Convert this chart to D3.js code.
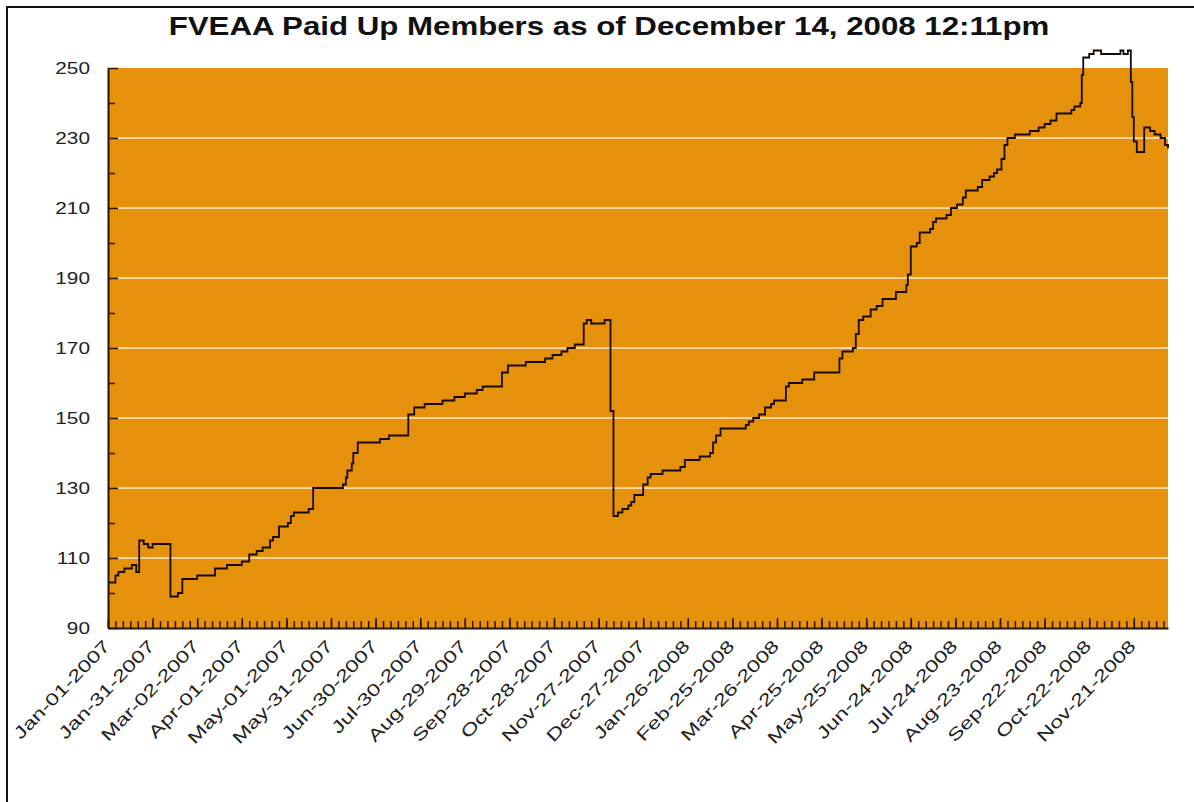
<!DOCTYPE html>
<html>
<head>
<meta charset="utf-8">
<script src="https://cdn.jsdelivr.net/npm/d3@7"></script>
<style>
  body { margin: 0; background: #fff; }
  svg { display: block; }
</style>
</head>
<body>
<div id="chart"></div>
<script>
// change dates of the member count (step series)
const dates = [
  "2007-01-01", "2007-01-06", "2007-01-08", "2007-01-12", "2007-01-17", "2007-01-20",
  "2007-01-22", "2007-01-25", "2007-01-28", "2007-01-31", "2007-02-12", "2007-02-17",
  "2007-02-20", "2007-03-02", "2007-03-14", "2007-03-22", "2007-04-01", "2007-04-06",
  "2007-04-11", "2007-04-15", "2007-04-20", "2007-04-22", "2007-04-26", "2007-05-02",
  "2007-05-04", "2007-05-06", "2007-05-16", "2007-05-19", "2007-06-08", "2007-06-10",
  "2007-06-11", "2007-06-14", "2007-06-15", "2007-06-18", "2007-07-03", "2007-07-09",
  "2007-07-22", "2007-07-26", "2007-08-02", "2007-08-14", "2007-08-22", "2007-08-29",
  "2007-09-06", "2007-09-10", "2007-09-23", "2007-09-27", "2007-10-09", "2007-10-22",
  "2007-10-27", "2007-11-02", "2007-11-06", "2007-11-11", "2007-11-17", "2007-11-19",
  "2007-11-22", "2007-12-01", "2007-12-05", "2007-12-07", "2007-12-10", "2007-12-13",
  "2007-12-17", "2007-12-19", "2007-12-21", "2007-12-27", "2007-12-30", "2008-01-01",
  "2008-01-09", "2008-01-21", "2008-01-24", "2008-02-03", "2008-02-10", "2008-02-12",
  "2008-02-14", "2008-02-17", "2008-03-05", "2008-03-07", "2008-03-10", "2008-03-14",
  "2008-03-18", "2008-03-22", "2008-03-24", "2008-04-01", "2008-04-03", "2008-04-12",
  "2008-04-20", "2008-05-07", "2008-05-09", "2008-05-16", "2008-05-18", "2008-05-20",
  "2008-05-23", "2008-05-28", "2008-06-01", "2008-06-05", "2008-06-14", "2008-06-21",
  "2008-06-22", "2008-06-24", "2008-06-28", "2008-06-30", "2008-07-07", "2008-07-09",
  "2008-07-11", "2008-07-18", "2008-07-21", "2008-07-25", "2008-07-29", "2008-07-31",
  "2008-08-08", "2008-08-11", "2008-08-16", "2008-08-19", "2008-08-21", "2008-08-24",
  "2008-08-26", "2008-08-28", "2008-09-02", "2008-09-12", "2008-09-18", "2008-09-22",
  "2008-09-26", "2008-09-30", "2008-10-10", "2008-10-12", "2008-10-16", "2008-10-17",
  "2008-10-18", "2008-10-22", "2008-10-25", "2008-10-30", "2008-11-12", "2008-11-14",
  "2008-11-17", "2008-11-19", "2008-11-20", "2008-11-21", "2008-11-23", "2008-11-28",
  "2008-12-02", "2008-12-05", "2008-12-09", "2008-12-12", "2008-12-14"
];

// paid up members from that date on
const members = [
  103, 105, 106, 107, 108, 106,
  115, 114, 113, 114, 99, 100,
  104, 105, 107, 108, 109, 111,
  112, 113, 115, 116, 119, 120,
  122, 123, 124, 130, 131, 133,
  135, 137, 140, 143, 144, 145,
  151, 153, 154, 155, 156, 157,
  158, 159, 163, 165, 166, 167,
  168, 169, 170, 171, 177, 178,
  177, 178, 152, 122, 123, 124,
  125, 126, 128, 131, 133, 134,
  135, 136, 138, 139, 140, 143,
  145, 147, 148, 149, 150, 151,
  153, 154, 155, 159, 160, 161,
  163, 167, 169, 170, 174, 178,
  179, 181, 182, 184, 186, 188,
  191, 199, 200, 203, 204, 206,
  207, 208, 210, 211, 213, 215,
  216, 218, 219, 220, 221, 224,
  228, 230, 231, 232, 233, 234,
  235, 237, 238, 239, 240, 248,
  253, 254, 255, 254, 255, 254,
  255, 246, 236, 229, 226, 233,
  232, 231, 230, 228, 227
];

// x tick labels (one every 30 days)
const xTickLabels = [
  "Jan-01-2007", "Jan-31-2007", "Mar-02-2007", "Apr-01-2007", "May-01-2007", "May-31-2007",
  "Jun-30-2007", "Jul-30-2007", "Aug-29-2007", "Sep-28-2007", "Oct-28-2007", "Nov-27-2007",
  "Dec-27-2007", "Jan-26-2008", "Feb-25-2008", "Mar-26-2008", "Apr-25-2008", "May-25-2008",
  "Jun-24-2008", "Jul-24-2008", "Aug-23-2008", "Sep-22-2008", "Oct-22-2008", "Nov-21-2008"
];
const yTicks = [90, 110, 130, 150, 170, 190, 210, 230, 250];
const yMinorTicks = [100, 120, 140, 160, 180, 200, 220, 240];

const title = "FVEAA Paid Up Members as of December 14, 2008 12:11pm";

const width = 1194;
const height = 802;
const margin = { top: 68, right: 26, bottom: 174, left: 108 };

const parseDate = d3.utcParse("%Y-%m-%d");
const parseLabel = d3.utcParse("%b-%d-%Y");
const fmt = d3.utcFormat("%b-%d-%Y");

const series = dates.map((d, i) => ({ date: parseDate(d), value: members[i] }));
const startDate = series[0].date;
const endDate = series[series.length - 1].date;

const svg = d3.select("#chart")
  .append("svg")
  .attr("width", width)
  .attr("height", height);

// outer frame
svg.append("rect")
  .attr("x", 7).attr("y", 7)
  .attr("width", 1220).attr("height", 830)
  .attr("fill", "none")
  .attr("stroke", "#111")
  .attr("stroke-width", 2);

const x = d3.scaleUtc()
  .domain([startDate, endDate])
  .range([margin.left, width - margin.right]);

const y = d3.scaleLinear()
  .domain([90, 250])
  .range([height - margin.bottom, margin.top]);

// plot background
svg.append("rect")
  .attr("x", x.range()[0])
  .attr("y", y(250))
  .attr("width", x.range()[1] - x.range()[0])
  .attr("height", y(90) - y(250))
  .attr("fill", "#e6910c");

// horizontal grid
svg.append("g")
  .selectAll("line")
  .data(yTicks.slice(1, -1))
  .join("line")
  .attr("x1", x.range()[0] + 10)
  .attr("x2", x.range()[1])
  .attr("y1", (d) => y(d))
  .attr("y2", (d) => y(d))
  .attr("stroke", "#fdebd0")
  .attr("stroke-width", 1.6);

// member line
const line = d3.line()
  .x((d) => x(d.date))
  .y((d) => y(d.value))
  .curve(d3.curveStepAfter);

svg.append("path")
  .datum(series)
  .attr("fill", "none")
  .attr("stroke", "#160a00")
  .attr("stroke-width", 1.8)
  .attr("d", line);

// y axis: ticks drawn inward
svg.append("g")
  .attr("transform", `translate(${margin.left},0)`)
  .call(d3.axisLeft(y).tickValues(yTicks).tickSizeInner(-10).tickSizeOuter(0).tickFormat(""));
svg.append("g")
  .attr("transform", `translate(${margin.left},0)`)
  .call(d3.axisLeft(y).tickValues(yMinorTicks).tickSize(-7).tickFormat(""))
  .call((g) => g.select(".domain").remove());

svg.append("g")
  .selectAll("g")
  .data(yTicks)
  .join("g")
  .attr("transform", (d) => `translate(90,${y(d)}) scale(1.3,1)`)
  .append("text")
  .attr("text-anchor", "end")
  .attr("dy", "0.38em")
  .attr("font-family", "Liberation Sans, Arial, sans-serif")
  .attr("font-size", 16)
  .attr("fill", "#222")
  .text((d) => d);

// x axis: major ticks every 30 days, minor every 5
const majorTicks = xTickLabels.map((s) => parseLabel(s));
const minorTicks = d3.utcDay.range(startDate, d3.utcDay.offset(endDate, 1))
  .filter((d) => d3.utcDay.count(startDate, d) % 5 === 0);

svg.append("g")
  .attr("transform", `translate(0,${y(90)})`)
  .call(d3.axisBottom(x).tickValues(minorTicks).tickSize(-7).tickFormat(""))
  .call((g) => g.select(".domain").remove());
svg.append("g")
  .attr("transform", `translate(0,${y(90)})`)
  .call(d3.axisBottom(x).tickValues(majorTicks).tickSizeInner(-10).tickSizeOuter(0).tickFormat(""));

svg.selectAll(".tick line").attr("stroke", "#2b1500").attr("stroke-width", 1.5);
svg.selectAll(".domain").attr("stroke", "#2b1500").attr("stroke-width", 2);

svg.append("g")
  .selectAll("g")
  .data(majorTicks)
  .join("g")
  .attr("transform", (d) => `translate(${x(d) + 3},${y(90) + 19}) rotate(-46) scale(1.36,1)`)
  .append("text")
  .attr("text-anchor", "end")
  .attr("font-family", "Liberation Sans, Arial, sans-serif")
  .attr("font-size", 17)
  .attr("fill", "#222")
  .text((d) => fmt(d));

// title
svg.append("g")
  .attr("transform", "translate(609,35) scale(1.25,1)")
  .append("text")
  .attr("text-anchor", "middle")
  .attr("font-family", "Liberation Sans, Arial, sans-serif")
  .attr("font-weight", "bold")
  .attr("font-size", 25)
  .attr("fill", "#111")
  .text(title);
</script>
</body>
</html>
